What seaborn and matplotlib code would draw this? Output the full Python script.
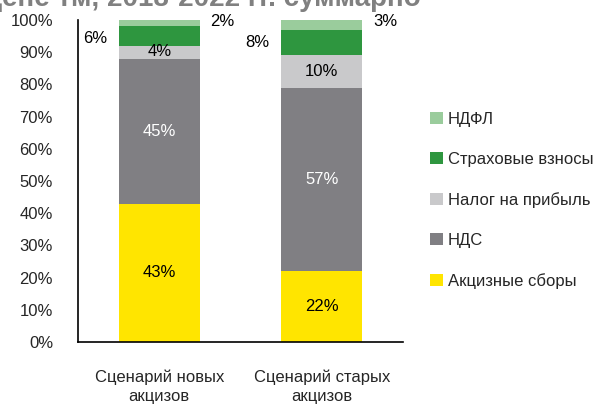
"""
Структура налоговых поступлений: сценарии новых и старых акцизов
"""
import numpy as np
import pandas as pd
import matplotlib.pyplot as plt
import seaborn as sns

sns.set_style("white")
plt.rcParams['font.family'] = ['Liberation Sans', 'DejaVu Sans']

# Data
scenarios = ['Сценарий новых\nакцизов', 'Сценарий старых\nакцизов']
layers = ['Акцизные сборы', 'НДС', 'Налог на прибыль', 'Страховые взносы', 'НДФЛ']
excise = [43, 22]
vat = [45, 57]
profit_tax = [4, 10]
insurance = [6, 8]
ndfl = [2, 3]
yticks = [0, 10, 20, 30, 40, 50, 60, 70, 80, 90, 100]
title_text = 'цене тм, 2018-2022 гг. суммарно'

colors = ['#FFE500', '#807F83', '#C9C9CB', '#2E963F', '#9ACC9C']
values = np.array([excise, vat, profit_tax, insurance, ndfl])
tops = values.cumsum(axis=0)

fig = plt.figure(figsize=(6.01, 4.08), dpi=100)
ax = fig.add_axes([78 / 601, 66 / 408, 325 / 601, 322 / 408])

# Stacked bars: draw cumulative totals from the top layer down
for i in range(len(layers) - 1, -1, -1):
    df = pd.DataFrame({'scenario': scenarios, 'value': tops[i]})
    sns.barplot(data=df, x='scenario', y='value', color=colors[i], width=0.5,
                saturation=1, ax=ax, label=layers[i], linewidth=0)

ax.set_xlim(-0.5, 1.5)
ax.set_ylim(0, 100)
ax.set_yticks(yticks)
ax.set_yticklabels([f'{t}%' for t in yticks], fontsize=12)
ax.set_xlabel('')
ax.set_ylabel('')
ax.set_xticks([0, 1])
ax.set_xticklabels(scenarios, fontsize=12, linespacing=1.35)
ax.set_xticks([-0.5, 0.5, 1.5], minor=True)
ax.tick_params(axis='x', which='major', length=0, pad=20)
ax.tick_params(axis='x', which='minor', length=5, width=1.2, direction='out', color='black')
ax.tick_params(axis='y', length=5, width=1.2, direction='out', color='black', pad=13)
for s in ['top', 'right']:
    ax.spines[s].set_visible(False)
for s in ['left', 'bottom']:
    ax.spines[s].set_color('black')
    ax.spines[s].set_linewidth(1.2)

# Segment labels
lab = dict(fontsize=12, ha='center', va='center')
for j in range(2):
    ax.text(j, excise[j] / 2, f'{excise[j]}%', color='black', **lab)
    ax.text(j, tops[0][j] + vat[j] / 2, f'{vat[j]}%', color='white', **lab)
ax.text(0, 90.1, f'{profit_tax[0]}%', color='black', **lab)
ax.text(1, tops[1][1] + profit_tax[1] / 2, f'{profit_tax[1]}%', color='black', **lab)
ax.text(-0.395, 94.4, f'{insurance[0]}%', color='black', **lab)
ax.text(0.605, 92.9, f'{insurance[1]}%', color='black', **lab)
ax.text(0.39, 99.4, f'{ndfl[0]}%', color='black', **lab)
ax.text(1.39, 99.4, f'{ndfl[1]}%', color='black', **lab)

if ax.get_legend():
    ax.get_legend().remove()
handles, labels = ax.get_legend_handles_labels()
h_by = dict(zip(labels, handles))
fig.legend([h_by[l] for l in layers[::-1]], layers[::-1], loc='upper left',
           bbox_to_anchor=(415 / 601, 1 - 97 / 408), frameon=False, fontsize=12,
           handlelength=0.75, handleheight=0.75, handletextpad=0.3, labelspacing=1.5)

# title of the source slide, clipped at the top edge as in the original
fig.text(-0.025, 1 - 5.5 / 408, title_text, fontsize=20, fontweight='bold',
         color='#808080', ha='left', va='baseline')

fig.savefig('out.png', dpi=100)
